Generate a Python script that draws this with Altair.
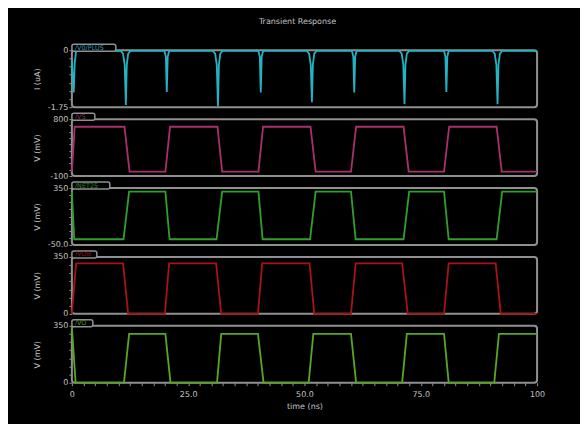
import altair as alt
import pandas as pd

# ---------------- data ----------------
# Panel 1: current /V0/PLUS in uA
i_t = [0, 0.2, 0.4, 0.6, 0.9,
       10.5, 11.0, 11.35, 11.6, 11.8, 12.1, 12.6,
       19.9, 20.2, 20.4, 20.6, 20.9,
       30.3, 30.8, 31.15, 31.4, 31.6, 31.9, 32.4,
       40.1, 40.4, 40.6, 40.8, 41.1,
       50.5, 51.0, 51.35, 51.6, 51.8, 52.1, 52.6,
       60.2, 60.5, 60.7, 60.9, 61.2,
       70.4, 70.9, 71.25, 71.5, 71.7, 72.0, 72.5,
       80.0, 80.3, 80.5, 80.7, 81.0,
       90.4, 90.9, 91.25, 91.5, 91.7, 92.0, 92.5,
       100]
i_v = [-0.3, -0.9, -1.3, -0.4, -0.02,
       -0.02, -0.1, -0.45, -1.68, -0.45, -0.1, -0.02,
       -0.02, -0.2, -1.28, -0.2, -0.02,
       -0.02, -0.1, -0.45, -1.72, -0.45, -0.1, -0.02,
       -0.02, -0.2, -1.30, -0.2, -0.02,
       -0.02, -0.1, -0.45, -1.60, -0.45, -0.1, -0.02,
       -0.02, -0.2, -1.30, -0.2, -0.02,
       -0.02, -0.1, -0.45, -1.65, -0.45, -0.1, -0.02,
       -0.02, -0.2, -1.28, -0.2, -0.02,
       -0.02, -0.1, -0.45, -1.66, -0.45, -0.1, -0.02,
       -0.02]

# Panel 2: /VS in mV
vs_t = [0, 0.6, 11.3, 12.4, 20.1, 21.1, 31.3, 32.3, 40.1, 41.1,
        51.3, 52.4, 60.0, 61.1, 71.3, 72.4, 80.0, 81.1, 91.3, 92.4, 100]
vs_v = [-30, 680, 680, -30, -30, 680, 680, -30, -30, 680,
        680, -30, -30, 680, 680, -30, -30, 680, 680, -30, -30]

# Panel 3: /NET25 in mV
net_t = [0, 0.5, 11.1, 12.3, 20.1, 21.0, 31.1, 32.3, 40.1, 41.0,
         51.2, 52.4, 60.0, 61.0, 71.3, 72.5, 80.0, 81.0, 91.3, 92.5, 100]
net_v = [325, -10, -10, 325, 325, -10, -10, 325, 325, -10,
         -10, 325, 325, -10, -10, 325, 325, -10, -10, 325, 325]

# Panel 4: /VOB in mV
vob_t = [0, 0.9, 11.0, 12.1, 20.0, 20.9, 31.0, 32.1, 40.0, 40.9,
         51.1, 52.1, 60.0, 61.0, 71.0, 72.2, 80.0, 81.0, 91.1, 92.2, 100]
vob_v = [0, 310, 310, 0, 0, 310, 310, 0, 0, 310,
         310, 0, 0, 310, 310, 0, 0, 310, 310, 0, 0]

# Panel 5: /VO in mV
vo_t = [0, 0.8, 11.2, 12.3, 20.1, 21.2, 31.2, 32.1, 40.0, 41.2,
        50.9, 51.9, 60.0, 61.1, 71.0, 72.0, 80.0, 81.0, 90.8, 91.8, 100]
vo_v = [340, 0, 0, 300, 300, 0, 0, 300, 300, 0,
        0, 300, 300, 0, 0, 300, 300, 0, 0, 300, 300]

names = ["/V0/PLUS", "/VS", "/NET25", "/VOB", "/VO"]
y_titles = ["I (uA)", "V (mV)", "V (mV)", "V (mV)", "V (mV)"]
y_domains = [[-1.75, 0], [-100, 800], [-50, 350], [0, 350], [0, 350]]
y_ticks = [
    [-1.75, -1.5, -1.25, -1.0, -0.75, -0.5, -0.25, 0],
    [-100, 0, 100, 200, 300, 400, 500, 600, 700, 800],
    [-50, 0, 50, 100, 150, 200, 250, 300, 350],
    [0, 50, 100, 150, 200, 250, 300, 350],
    [0, 50, 100, 150, 200, 250, 300, 350],
]
y_labels = [
    {0: "0", -1.75: "-1.75"},
    {800: "800", -100: "-100"},
    {350: "350", -50: "-50.0"},
    {350: "350", 0: "0"},
    {350: "350", 0: "0"},
]
x_ticks = [i * 2.5 for i in range(41)]
x_labels = {0: "0", 25: "25.0", 50: "50.0", 75: "75.0", 100: "100"}

colors = ["#22b4c4", "#a8306c", "#2ea02e", "#a81414", "#58a822"]
tab_widths = [44, 23, 38, 25, 21]

series = [(i_t, i_v), (vs_t, vs_v), (net_t, net_v), (vob_t, vob_v), (vo_t, vo_v)]

FRAME = "#909090"
TXT = "#c4c4c4"
FONT = "DejaVu Sans"
W, H = 466, 57


def label_expr(mapping):
    parts = []
    for k, s in mapping.items():
        parts.append(f"abs(datum.value - ({k})) < 1e-6 ? '{s}'")
    return " : ".join(parts) + " : ''"


panels = []
for k in range(5):
    t, v = series[k]
    df = pd.DataFrame({"t": t, "v": v})
    last = k == 4
    if last:
        xaxis = alt.Axis(values=x_ticks, labelExpr=label_expr(x_labels),
                         title="time (ns)", tickSize=3, tickColor=FRAME,
                         labelColor=TXT, labelFontSize=8, labelFont=FONT,
                         labelFlush=False, labelPadding=5,
                         titleColor=TXT, titleFontSize=8, titleFont=FONT,
                         titleFontWeight="normal", titlePadding=4,
                         domain=False, grid=False)
    else:
        xaxis = None
    yaxis = alt.Axis(values=y_ticks[k], labelExpr=label_expr(y_labels[k]),
                     title=y_titles[k], tickSize=3, tickColor=FRAME,
                     labelColor=TXT, labelFontSize=8, labelFont=FONT,
                     labelPadding=1, titleColor=TXT, titleFontSize=8,
                     titleFont=FONT, titleFontWeight="normal", titlePadding=4,
                     minExtent=26, maxExtent=26, domain=False, grid=False)
    line = alt.Chart(df).mark_line(color=colors[k], strokeWidth=1.8).encode(
        x=alt.X("t:Q", scale=alt.Scale(domain=[0, 100], nice=False, zero=False), axis=xaxis),
        y=alt.Y("v:Q", scale=alt.Scale(domain=y_domains[k], nice=False, zero=False), axis=yaxis),
    )
    one = pd.DataFrame({"n": [names[k]]})
    tab = alt.Chart(one).mark_rect(fill="black", stroke=FRAME, strokeWidth=1.5,
                                   cornerRadius=2).encode(
        x=alt.value(0), x2=alt.value(tab_widths[k]), y=alt.value(-6), y2=alt.value(1))
    txt = alt.Chart(one).mark_text(align="left", baseline="middle", fontSize=6.5,
                                   font=FONT, color=colors[k], opacity=0.85).encode(
        x=alt.value(3), y=alt.value(-2.5), text="n:N")
    layer = alt.layer(line, tab, txt).properties(width=W, height=H)
    if k == 0:
        layer = layer.properties(title=alt.TitleParams(
            "Transient Response", anchor="middle", frame="group", fontSize=8,
            font=FONT, fontWeight="normal", color=TXT, offset=18, dx=-7))
    panels.append(layer)

chart = alt.vconcat(*panels, spacing=12, bounds="flush").configure(
    background="black",
    padding={"left": 25, "top": 8, "right": 34, "bottom": 12},
).configure_view(stroke=FRAME, strokeWidth=2, cornerRadius=3)

chart.save("out.html", embed_options={"renderer": "svg", "actions": False})
